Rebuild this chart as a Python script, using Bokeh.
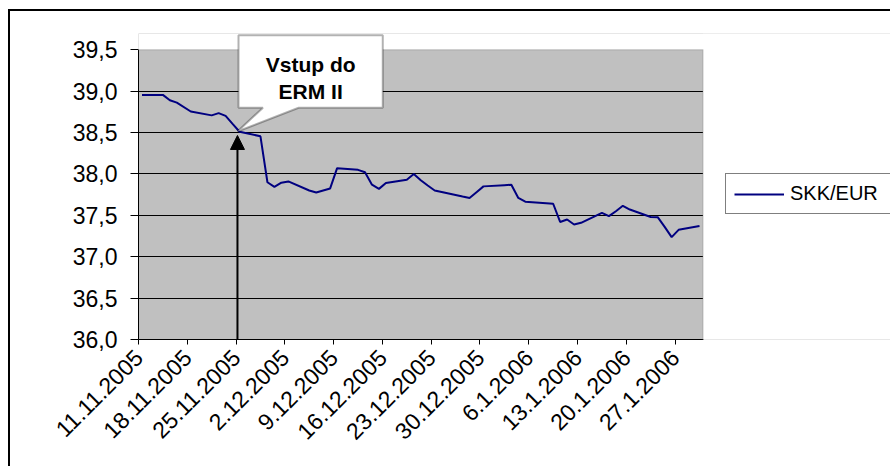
import math
import pandas as pd
from bokeh.plotting import figure
from bokeh.models import (ColumnDataSource, FixedTicker, Legend, LegendItem, Arrow,
                          NormalHead, PolyAnnotation, Label, Range1d, BoxAnnotation)
from bokeh.embed import file_html
from bokeh.resources import INLINE

# ---- data -------------------------------------------------------------
dates = ["11.11.2005", "14.11.2005", "15.11.2005", "16.11.2005", "18.11.2005",
         "21.11.2005", "22.11.2005", "23.11.2005", "24.11.2005", "25.11.2005",
         "28.11.2005", "29.11.2005", "30.11.2005", "1.12.2005", "2.12.2005",
         "5.12.2005", "6.12.2005", "7.12.2005", "8.12.2005", "9.12.2005",
         "12.12.2005", "13.12.2005", "14.12.2005", "15.12.2005", "16.12.2005",
         "19.12.2005", "20.12.2005", "21.12.2005", "22.12.2005", "23.12.2005",
         "27.12.2005", "28.12.2005", "29.12.2005", "30.12.2005", "2.1.2006",
         "3.1.2006", "4.1.2006", "5.1.2006", "9.1.2006", "10.1.2006",
         "11.1.2006", "12.1.2006", "13.1.2006", "16.1.2006", "17.1.2006",
         "18.1.2006", "19.1.2006", "20.1.2006", "23.1.2006", "24.1.2006",
         "25.1.2006", "26.1.2006", "27.1.2006", "30.1.2006"]
skk_eur = [38.955, 38.955, 38.890, 38.862, 38.755,
           38.708, 38.735, 38.702, 38.605, 38.510,
           38.455, 37.900, 37.845, 37.895, 37.910,
           37.800, 37.775, 37.800, 37.825, 38.070,
           38.050, 38.020, 37.870, 37.820, 37.890,
           37.930, 38.000, 37.925, 37.860, 37.800,
           37.727, 37.710, 37.780, 37.850, 37.865,
           37.870, 37.710, 37.665, 37.640, 37.420,
           37.450, 37.390, 37.410, 37.530, 37.490,
           37.550, 37.615, 37.570, 37.480, 37.478,
           37.360, 37.237, 37.325, 37.370]
x_tick_labels = ["11.11.2005", "18.11.2005", "25.11.2005", "2.12.2005", "9.12.2005",
                 "16.12.2005", "23.12.2005", "30.12.2005", "6.1.2006", "13.1.2006",
                 "20.1.2006", "27.1.2006"]
y_tick_labels = ["36,0", "36,5", "37,0", "37,5", "38,0", "38,5", "39,0", "39,5"]
axis_end_date = "31.1.2006"
series_name = "SKK/EUR"
callout_lines = ["Vstup do", "ERM II"]
event_date = "25.11.2005"

# ---- derived ----------------------------------------------------------
FONT = "Liberation Sans"
start = pd.to_datetime(dates[0], format="%d.%m.%Y")
def day(s):
    return (pd.to_datetime(s, format="%d.%m.%Y") - start).days

xs = [day(d) + 0.5 for d in dates]
x_ticks = [day(t) for t in x_tick_labels]
y_ticks = [float(t.replace(",", ".")) for t in y_tick_labels]
y_lo, y_hi = y_ticks[0], y_ticks[-1]
x_end = day(axis_end_date)

src = ColumnDataSource(dict(x=xs, y=skk_eur))

# The frame is extended to the right (legend) and upward (callout) so that
# these annotations are not clipped; the extra area is covered in white.
W, H = 882, 457
LEFT, TOP, BOTTOM = 130, 24, 127
PLOT_W = 564.5                      # width of the grey plot area in px
frame_w = W - LEFT
x_max = x_end * frame_w / PLOT_W

p = figure(width=W, height=H,
           x_range=Range1d(0, x_max),
           y_range=Range1d(y_lo, 39.697),
           output_backend="svg", toolbar_location=None,
           min_border_left=LEFT, min_border_right=0,
           min_border_top=TOP, min_border_bottom=BOTTOM,
           background_fill_color="#C0C0C0", border_fill_color=None)
p.styles = {"margin-left": "8px", "margin-top": "9px",
            "box-shadow": "inset 2px 2px 0px 0px black"}
p.outline_line_color = None

p.xgrid.visible = False
p.ygrid.ticker = FixedTicker(ticks=y_ticks[:-1])
p.ygrid.grid_line_color = "black"
p.ygrid.grid_line_width = 1

p.yaxis.ticker = FixedTicker(ticks=y_ticks)
p.yaxis.bounds = (y_lo, y_hi)
p.yaxis.major_label_overrides = {v: l for v, l in zip(y_ticks, y_tick_labels)}
p.xaxis.ticker = FixedTicker(ticks=x_ticks)
p.xaxis.bounds = (0, x_end)
p.xaxis.major_label_overrides = {v: l for v, l in zip(x_ticks, x_tick_labels)}
p.xaxis.major_label_orientation = math.pi / 4

for ax in (p.xaxis[0], p.yaxis[0]):
    ax.axis_line_color = "black"
    ax.axis_line_width = 1
    ax.major_tick_line_color = "black"
    ax.major_tick_in = 0
    ax.minor_tick_line_color = None
    ax.major_label_text_font = FONT
    ax.major_label_text_font_size = "23px"
    ax.major_label_text_color = "black"
p.yaxis.major_tick_out = 8
p.yaxis.major_label_standoff = 13
p.xaxis.major_tick_out = 5
p.xaxis.major_label_standoff = 9

r = p.line("x", "y", source=src, line_color="#000080", line_width=2)

# white covers outside the grey plot area
p.add_layout(BoxAnnotation(bottom=y_hi, fill_color="white", fill_alpha=1,
                           line_color=None, level="annotation"))
p.add_layout(BoxAnnotation(left=x_end, fill_color="white", fill_alpha=1,
                           line_color=None, level="annotation"))
# grey top and right edge of the plot area
p.add_layout(BoxAnnotation(left=-1, right=x_end, bottom=y_lo - 0.1, top=y_hi,
                           fill_alpha=0, line_color="#808080", line_width=1.5,
                           level="annotation"))

legend = Legend(items=[LegendItem(label=series_name, renderers=[r])],
                location=(587, 125), margin=0, padding=8, spacing=0,
                glyph_width=50, glyph_height=20, label_standoff=6,
                label_height=20, label_width=100,
                label_text_font=FONT, label_text_font_size="20px",
                label_text_color="black", border_line_color="black",
                border_line_width=1, background_fill_color="white",
                background_fill_alpha=1, level="overlay")
p.add_layout(legend)

# ---- callout and arrow -----------------------------------------------
ex = day(event_date) + 0.2
tip_y = 38.513
box_l, box_r, box_t, box_b = ex + 0.15, ex + 20.85, 39.676, 38.80
tail_a, tail_b = ex + 3.66, ex + 8.78
callout = PolyAnnotation(
    xs=[box_l, box_r, box_r, tail_b, ex, tail_a, box_l],
    ys=[box_t, box_t, box_b, box_b, tip_y, box_b, box_b],
    xs_units="data", ys_units="data",
    fill_color="white", fill_alpha=1, line_color="black", line_width=2,
    level="overlay")
p.add_layout(callout)

cx = (box_l + box_r) / 2
for txt, yy in zip(callout_lines, [39.3225, 39.0]):
    p.add_layout(Label(x=cx, y=yy, text=txt, text_align="center",
                       text_baseline="alphabetic", text_font=FONT,
                       text_font_size="21px", text_font_style="bold",
                       text_color="black", level="overlay"))

arrow = Arrow(end=NormalHead(size=14, fill_color="black", line_color="black"),
              x_start=ex, y_start=y_lo, x_end=ex, y_end=38.465,
              line_color="black", line_width=2)
p.add_layout(arrow)

open("out.html", "w").write(file_html(p, INLINE))
